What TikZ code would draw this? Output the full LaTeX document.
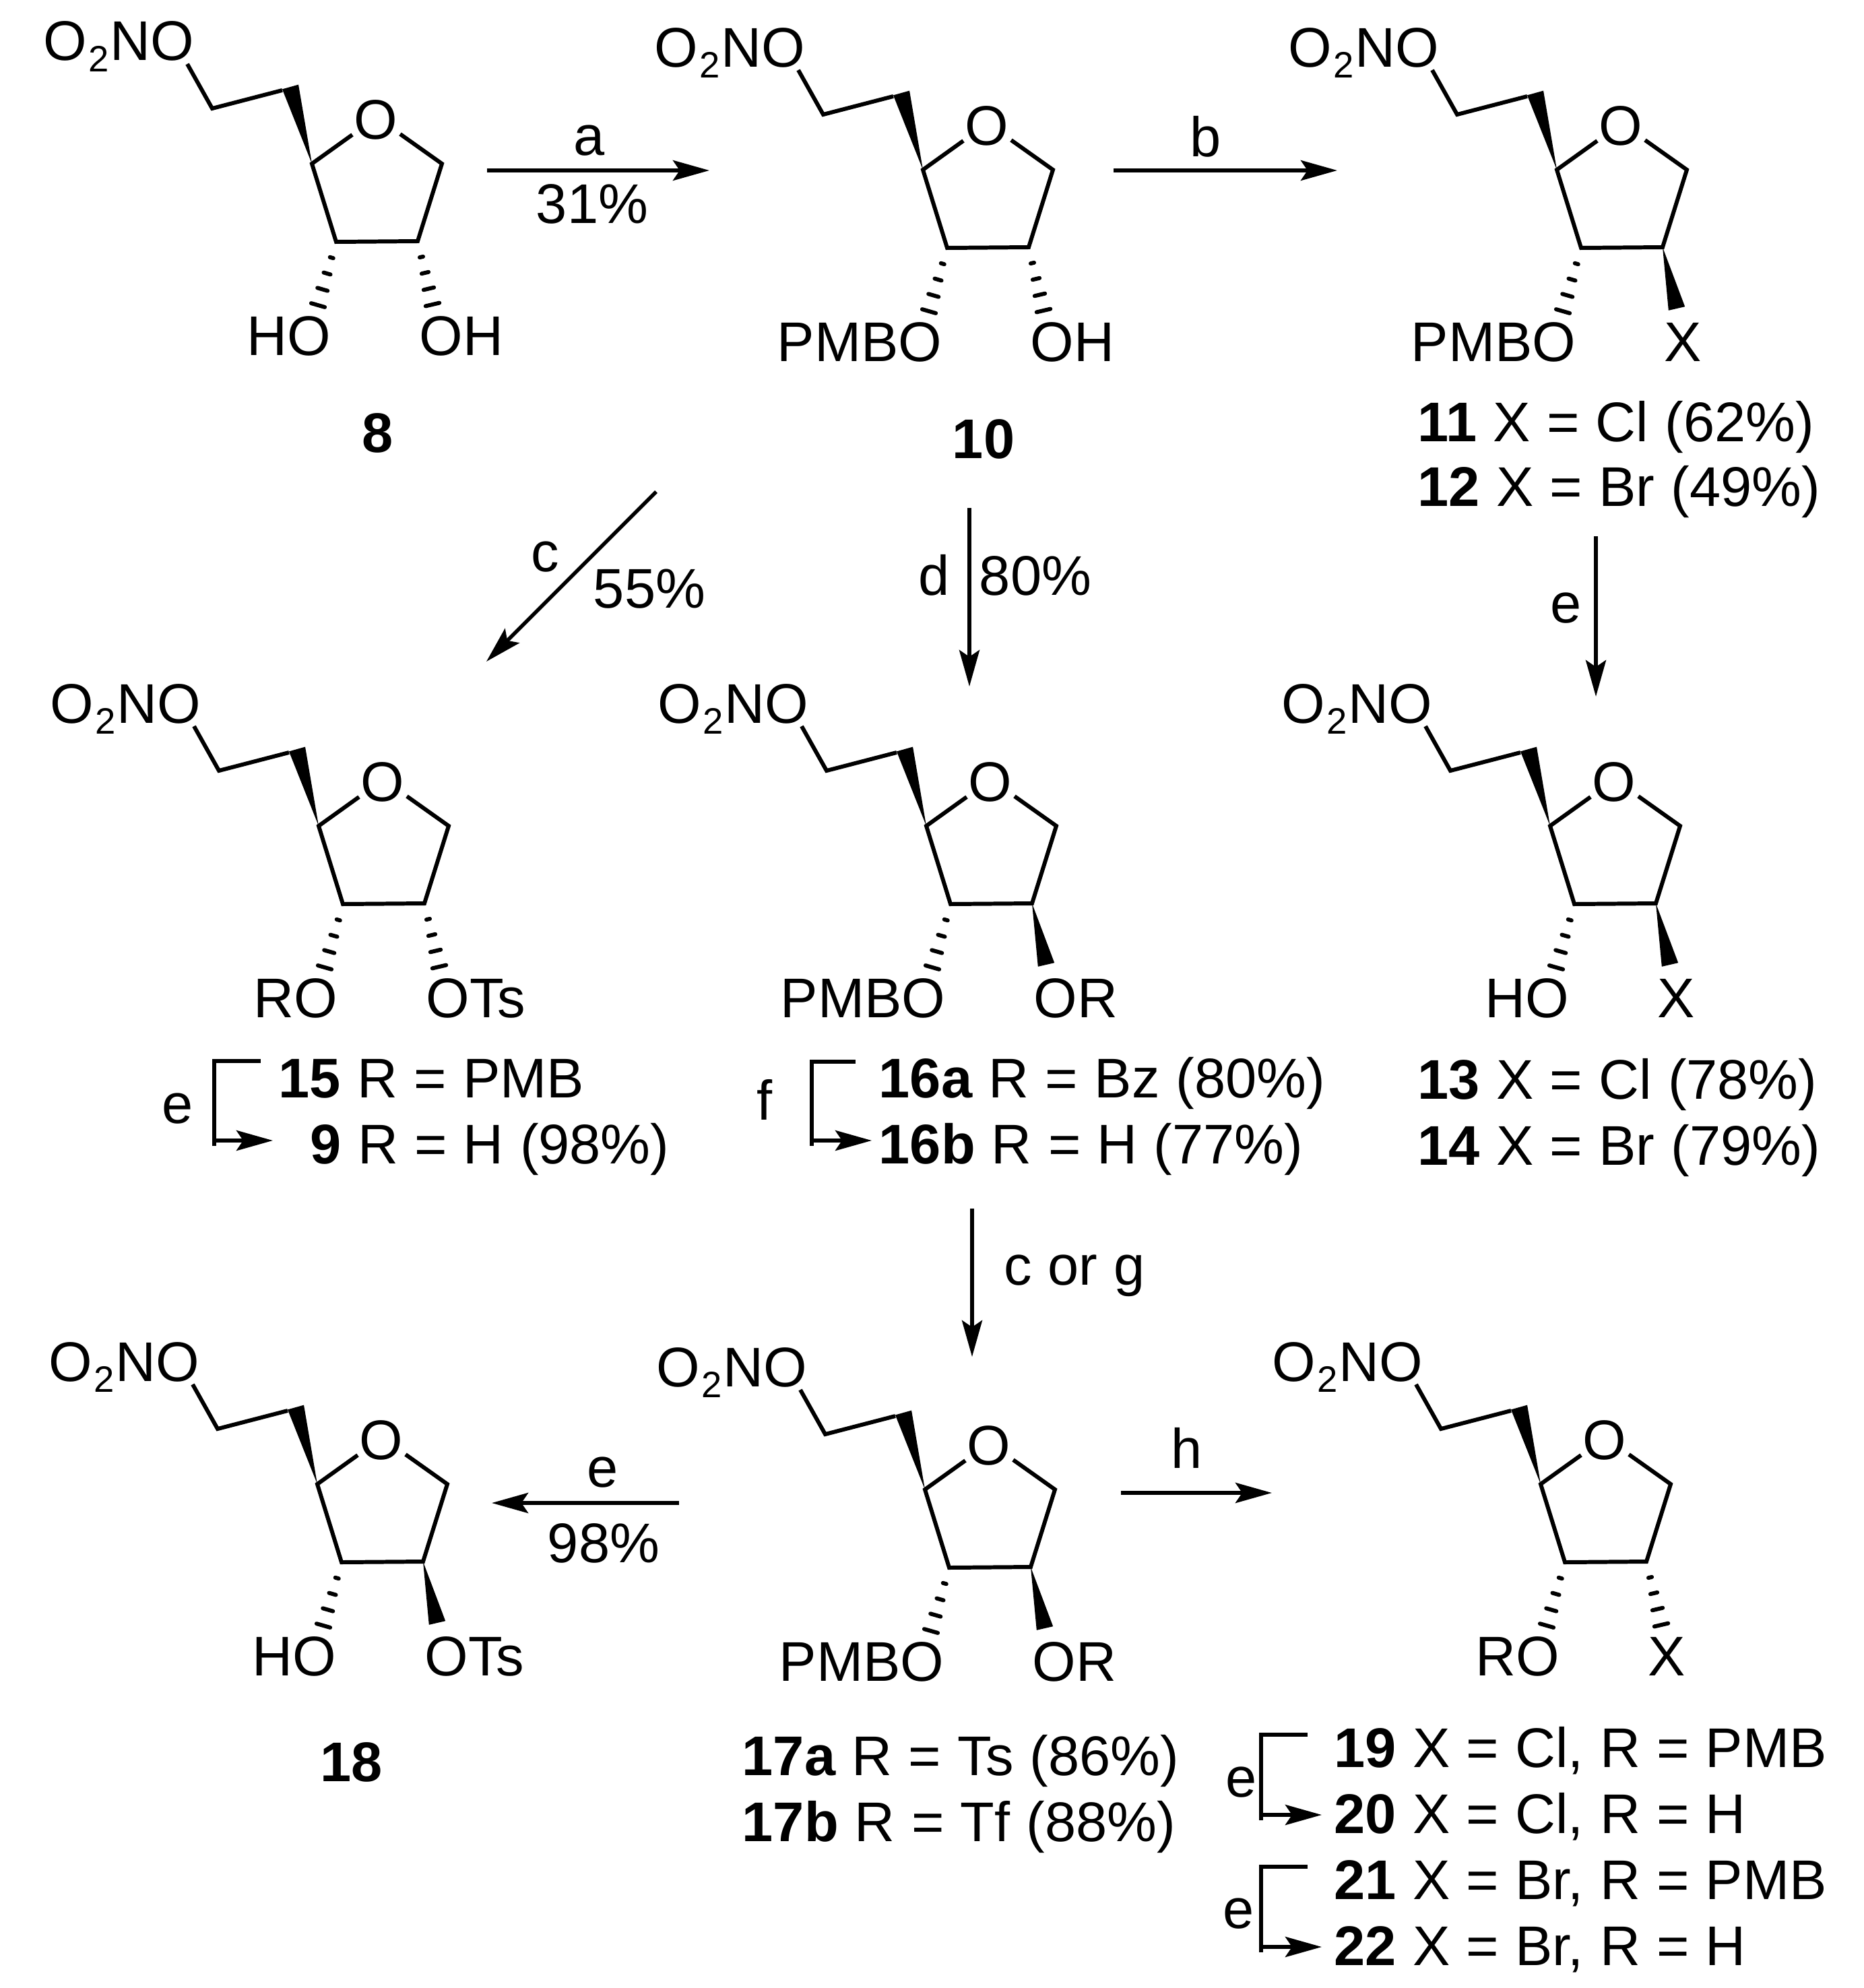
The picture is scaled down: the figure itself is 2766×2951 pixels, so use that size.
\documentclass[tikz,border=0pt]{standalone}
\usepackage{fontspec}
\setmainfont[WordSpace=1.05]{Liberation Sans}
\usetikzlibrary{arrows.meta,calc}

\newcommand{\subtwo}{\kern.6pt\raisebox{-0.2em}{\fontsize{15.5pt}{15.5pt}\selectfont 2}\kern.6pt}
\newcommand{\hashbond}[2]{%
	\foreach \pos in {.25,.5,.75,1}{%
		\pgfmathsetmacro{\hw}{\pos*0.105}
		\coordinate (hp) at ($(#1)!\pos!(#2)$);
		\draw[hashline] ($(hp)!\hw cm!90:(#1)$) -- ($(hp)!\hw cm!-90:(#1)$);
	}}
\newcommand{\wedgebond}[2]{%
	\fill (#1) -- ($(#2)!0.125cm!90:(#1)$) -- ($(#2)!0.125cm!-90:(#1)$) -- cycle;}

\tikzset{
	atom/.style={inner sep=0pt, font=\fontsize{23.6pt}{28pt}\selectfont},
	bond/.style={line width=1.7pt, line join=miter},
	hashline/.style={line width=1.7pt, line cap=round},
	rxn/.style={line width=1.6pt, -{Stealth[length=5.4mm,width=3mm,inset=1mm]}},
	furan/.pic={
		\node[atom] (-o) at (0,0) {O};
		\coordinate (-c4) at (-95,65);
		\coordinate (-c5) at (98,65);
		\coordinate (-c3) at (-59,181);
		\coordinate (-c2) at (62,180);
		\coordinate (-ch) at (-127,-49);
		\coordinate (-l) at (-86,275);
		\coordinate (-r) at (84,274);
		\coordinate (-w) at (83,271);
		\coordinate (-lt) at (-66,349);
		\coordinate (-rt) at (64,349);
		\node[atom,anchor=base east] (-ono) at (-269,-88) {O\subtwo NO};
		\draw[bond] (-35,22) -- (-c4) -- (-c3) -- (-c2) -- (-c5) -- (36,21);
		\draw[bond] (-280,-83) -- (-243,-17) -- (-139,-44);
		\wedgebond{-c4}{-ch}
	}
}

\begin{document}
\begin{tikzpicture}[x=0.01cm, y=-0.01cm]
	\useasboundingbox (0,0) rectangle (2766,2951);
	% top row
	\pic (m8) at (558,178) {furan};
	\hashbond{m8-c3}{m8-l}
	\hashbond{m8-c2}{m8-r}
	\node[atom,anchor=base east] (m8-ho) at (m8-lt) {HO};
	\node[atom,anchor=base west] (m8-oh) at (m8-rt) {OH};
	\node[atom,anchor=base] (n8) at (561,671) {\textbf{8}};

	\pic (m10) at (1465,187) {furan};
	\hashbond{m10-c3}{m10-l}
	\hashbond{m10-c2}{m10-r}
	\node[atom,anchor=base east] (m10-pmbo) at (m10-lt) {PMBO};
	\node[atom,anchor=base west] (m10-oh) at (m10-rt) {OH};
	\node[atom,anchor=base] (n10) at (1460,680) {\textbf{10}};

	\pic (m11) at (2406,187) {furan};
	\hashbond{m11-c3}{m11-l}
	\wedgebond{m11-c2}{m11-w}
	\node[atom,anchor=base east] (m11-pmbo) at (m11-lt) {PMBO};
	\node[atom,anchor=base west] (m11-x) at (m11-rt) {X};
	\node[atom,anchor=base west] (n11) at (2104,655) {\textbf{11} X = Cl (62\%)};
	\node[atom,anchor=base west] (n12) at (2104,751) {\textbf{12} X = Br (49\%)};

	% middle row
	\pic (m15) at (568,1161) {furan};
	\hashbond{m15-c3}{m15-l}
	\hashbond{m15-c2}{m15-r}
	\node[atom,anchor=base east] (m15-ro) at (m15-lt) {RO};
	\node[atom,anchor=base west] (m15-ots) at (m15-rt) {OTs};
	\node[atom,anchor=base west] (n15) at (413,1629) {\textbf{15} R = PMB};
	\node[atom,anchor=base west] (n9) at (460,1727) {\textbf{9} R = H (98\%)};

	\pic (m16) at (1470,1161) {furan};
	\hashbond{m16-c3}{m16-l}
	\wedgebond{m16-c2}{m16-w}
	\node[atom,anchor=base east] (m16-pmbo) at (m16-lt) {PMBO};
	\node[atom,anchor=base west] (m16-or) at (m16-rt) {OR};
	\node[atom,anchor=base west] (n16a) at (1304,1629) {\textbf{16a} R = Bz (80\%)};
	\node[atom,anchor=base west] (n16b) at (1304,1727) {\textbf{16b} R = H (77\%)};

	\pic (m13) at (2396,1161) {furan};
	\hashbond{m13-c3}{m13-l}
	\wedgebond{m13-c2}{m13-w}
	\node[atom,anchor=base east] (m13-ho) at (m13-lt) {HO};
	\node[atom,anchor=base west] (m13-x) at (m13-rt) {X};
	\node[atom,anchor=base west] (n13) at (2104,1631) {\textbf{13} X = Cl (78\%)};
	\node[atom,anchor=base west] (n14) at (2104,1729) {\textbf{14} X = Br (79\%)};

	% bottom row
	\pic (m18) at (566,2138) {furan};
	\hashbond{m18-c3}{m18-l}
	\wedgebond{m18-c2}{m18-w}
	\node[atom,anchor=base east] (m18-ho) at (m18-lt) {HO};
	\node[atom,anchor=base west] (m18-ots) at (m18-rt) {OTs};
	\node[atom,anchor=base] (n18) at (522,2644) {\textbf{18}};

	\pic (m17) at (1468,2146) {furan};
	\hashbond{m17-c3}{m17-l}
	\wedgebond{m17-c2}{m17-w}
	\node[atom,anchor=base east] (m17-pmbo) at (m17-lt) {PMBO};
	\node[atom,anchor=base west] (m17-or) at (m17-rt) {OR};
	\node[atom,anchor=base west] (n17a) at (1101,2635) {\textbf{17a} R = Ts (86\%)};
	\node[atom,anchor=base west] (n17b) at (1101,2733) {\textbf{17b} R = Tf (88\%)};

	\pic (m19) at (2382,2138) {furan};
	\hashbond{m19-c3}{m19-l}
	\hashbond{m19-c2}{m19-r}
	\node[atom,anchor=base east] (m19-ro) at (m19-lt) {RO};
	\node[atom,anchor=base west] (m19-x) at (m19-rt) {X};
	\node[atom,anchor=base west] (n19) at (1980,2623) {\textbf{19} X = Cl, R = PMB};
	\node[atom,anchor=base west] (n20) at (1980,2721) {\textbf{20} X = Cl, R = H};
	\node[atom,anchor=base west] (n21) at (1980,2819) {\textbf{21} X = Br, R = PMB};
	\node[atom,anchor=base west] (n22) at (1980,2917) {\textbf{22} X = Br, R = H};

	% reaction arrows
	\coordinate (a-s) at (723,253);
	\coordinate (a-e) at (1053,253);
	\draw[rxn] (a-s) -- (a-e);
	\node[atom,anchor=base] (a-t) at (875,230) {a};
	\node[atom,anchor=base] (a-y) at (879,331) {31\%};

	\coordinate (b-s) at (1653,253);
	\coordinate (b-e) at (1985,253);
	\draw[rxn] (b-s) -- (b-e);
	\node[atom,anchor=base] (b-t) at (1790,232) {b};

	\coordinate (c-s) at (974,730);
	\coordinate (c-e) at (722,982);
	\draw[rxn] (c-s) -- (c-e);
	\node[atom,anchor=base] (c-t) at (809,848) {c};
	\node[atom,anchor=base] (c-y) at (964,902) {55\%};

	\coordinate (d-s) at (1439,754);
	\coordinate (d-e) at (1439,1019);
	\draw[rxn] (d-s) -- (d-e);
	\node[atom,anchor=base] (d-t) at (1387,883) {d};
	\node[atom,anchor=base] (d-y) at (1537,883) {80\%};

	\coordinate (e1-s) at (2369,796);
	\coordinate (e1-e) at (2369,1034);
	\draw[rxn] (e1-s) -- (e1-e);
	\node[atom,anchor=base] (e1-t) at (2325,924) {e};

	\coordinate (g-s) at (1443,1794);
	\coordinate (g-e) at (1443,2014);
	\draw[rxn] (g-s) -- (g-e);
	\node[atom,anchor=base] (g-t) at (1595,1907) {c or g};

	\coordinate (e2-s) at (1008,2231);
	\coordinate (e2-e) at (730,2231);
	\draw[rxn] (e2-s) -- (e2-e);
	\node[atom,anchor=base] (e2-t) at (895,2207) {e};
	\node[atom,anchor=base] (e2-y) at (896,2319) {98\%};

	\coordinate (h-s) at (1664,2216);
	\coordinate (h-e) at (1888,2216);
	\draw[rxn] (h-s) -- (h-e);
	\node[atom,anchor=base] (h-t) at (1762,2179) {h};

	% brackets
	\coordinate (br1-t) at (387,1575);
	\coordinate (br1-c) at (318,1693);
	\coordinate (br1-e) at (405,1693);
	\draw[bond] (br1-t) -| ($(br1-c)+(0,8)$);
	\draw[rxn] (br1-c) -- (br1-e);
	\node[atom,anchor=base] (br1-l) at (264,1667) {e};

	\coordinate (br2-t) at (1270,1576);
	\coordinate (br2-c) at (1205,1693);
	\coordinate (br2-e) at (1294,1693);
	\draw[bond] (br2-t) -| ($(br2-c)+(0,8)$);
	\draw[rxn] (br2-c) -- (br2-e);
	\node[atom,anchor=base] (br2-l) at (1135,1662) {f};

	\coordinate (br3-t) at (1941,2575);
	\coordinate (br3-c) at (1872,2694);
	\coordinate (br3-e) at (1962,2694);
	\draw[bond] (br3-t) -| ($(br3-c)+(0,8)$);
	\draw[rxn] (br3-c) -- (br3-e);
	\node[atom,anchor=base] (br3-l) at (1843,2667) {e};

	\coordinate (br4-t) at (1941,2771);
	\coordinate (br4-c) at (1872,2890);
	\coordinate (br4-e) at (1962,2890);
	\draw[bond] (br4-t) -| ($(br4-c)+(0,8)$);
	\draw[rxn] (br4-c) -- (br4-e);
	\node[atom,anchor=base] (br4-l) at (1839,2862) {e};
\end{tikzpicture}
\end{document}
